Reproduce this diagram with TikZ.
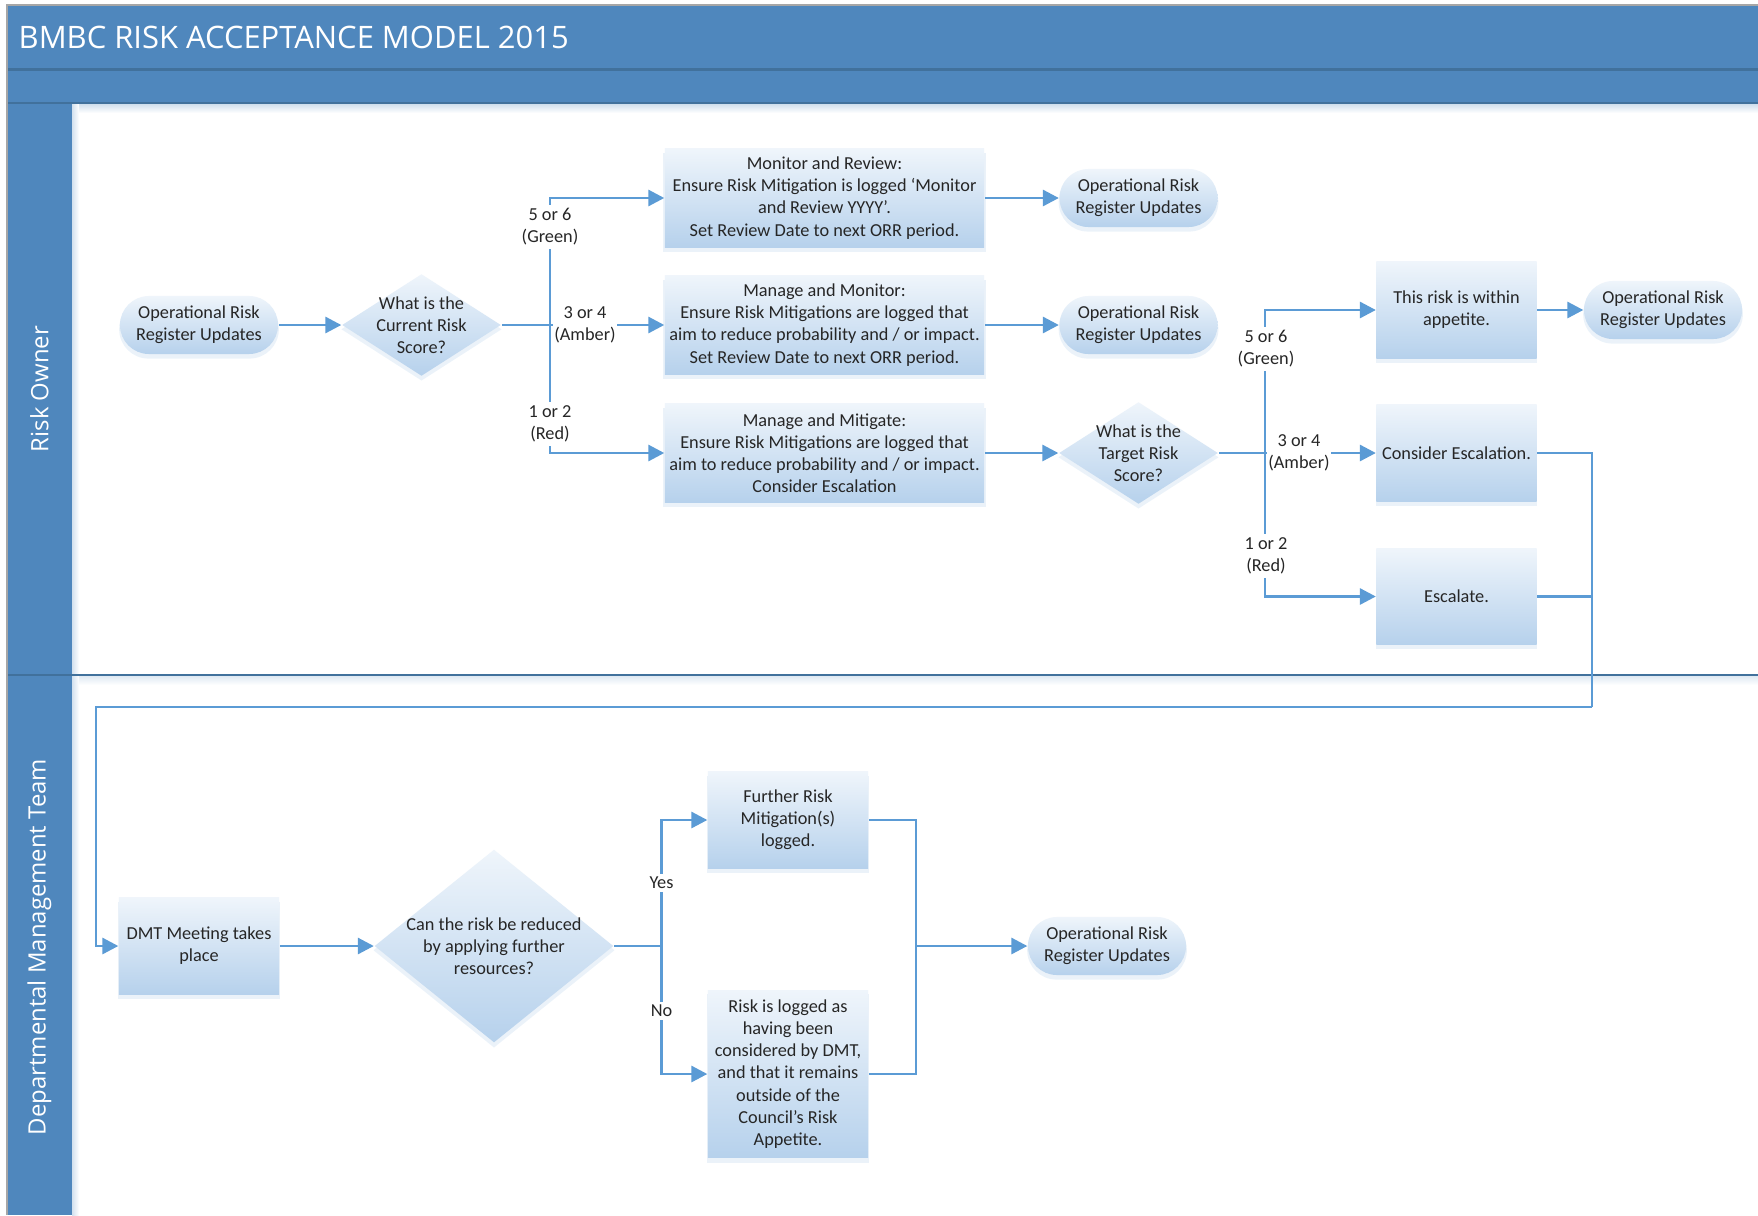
\documentclass[tikz,border=0pt]{standalone}
\usepackage{fontspec}
\setmainfont{Carlito}
\newfontfamily\lanefont{Open Sans}
\usepackage{tikz}
\usetikzlibrary{positioning}
\usetikzlibrary{shapes.geometric}
\usetikzlibrary{arrows.meta}
\usetikzlibrary{shadows}
\pgfdeclarelayer{background}
\pgfdeclarelayer{foreground}
\pgfsetlayers{background,main,foreground}
\definecolor{lanefill}{HTML}{4F87BD}
\definecolor{laneedge}{HTML}{41719C}
\definecolor{flowblue}{HTML}{5B9BD5}
\definecolor{boxtop}{HTML}{EFF5FB}
\definecolor{boxbottom}{HTML}{B6D1EC}
\definecolor{inktext}{HTML}{262626}
\newcommand{\nodefont}{\fontsize{5.2pt}{6.3pt}\selectfont}

\begin{document}
\begin{tikzpicture}[x=0.01cm, y=-0.01cm,
							basenode/.style={font=\nodefont, text=inktext, align=center, top color=boxtop, bottom color=boxbottom, drop shadow={shadow xshift=0pt, shadow yshift=-1.2pt, shadow scale=1.01, opacity=0.12, fill=flowblue}},
							roundnode/.style={basenode, rectangle, rounded corners=0.29cm, minimum width=1.58cm, minimum height=0.58cm, inner sep=1pt},
							boxnode/.style={basenode, rectangle, minimum width=1.6cm, minimum height=0.96cm, inner sep=1pt},
							widebox/.style={boxnode, minimum width=3.19cm, minimum height=0.98cm},
							decnode/.style={basenode, diamond, aspect=1.54, inner sep=-3pt, minimum width=1.59cm, minimum height=1.02cm},
							labelnode/.style={font=\nodefont, text=inktext, align=center, fill=white, inner xsep=0.5pt, inner ysep=1pt},
							titletext/.style={anchor=west, inner sep=0pt, text=white, font=\lanefont\fontsize{8.8pt}{10pt}\selectfont},
							lanetext/.style={rotate=90, text=white, font=\lanefont\fontsize{6.8pt}{8pt}\selectfont},
							link/.style={draw=flowblue, line width=0.6pt},
							flow/.style={link, -{Triangle[length=4.5pt, width=4.6pt]}},
							]
							\useasboundingbox (0,0) rectangle (1758,1215);
							%Nodes
							\node[titletext]      (title)   at  (18,37)       {BMBC RISK ACCEPTANCE MODEL 2015};
							\node[lanetext]       (owner)   at  (39.5,389)    {Risk Owner};
							\node[lanetext]       (dmtlane) at  (39.5,947)    {Departmental Management Team};
							\node[roundnode]      (orr1)    at  (199,325)     {Operational Risk\\Register Updates};
							\node[decnode]        (cur)     at  (421.5,325)   {What is the\\Current Risk\\Score?};
							\node[widebox]        (mrev)    at  (824.5,198)   {Monitor and Review:\\Ensure Risk Mitigation is logged ‘Monitor\\and Review YYYY’.\\Set Review Date to next ORR period.};
							\node[widebox]        (mmon)    at  (824.5,325)   {Manage and Monitor:\\Ensure Risk Mitigations are logged that\\aim to reduce probability and / or impact.\\Set Review Date to next ORR period.};
							\node[widebox]        (mmit)    at  (824.5,453)   {Manage and Mitigate:\\Ensure Risk Mitigations are logged that\\aim to reduce probability and / or impact.\\Consider Escalation};
							\node[roundnode]      (orr2)    at  (1138.5,198)  {Operational Risk\\Register Updates};
							\node[roundnode]      (orr3)    at  (1138.5,325)  {Operational Risk\\Register Updates};
							\node[decnode]        (tgt)     at  (1138.5,453)  {What is the\\Target Risk\\Score?};
							\node[boxnode]        (within)  at  (1456.5,310)  {This risk is within\\appetite.};
							\node[roundnode]      (orr4)    at  (1663,310)    {Operational Risk\\Register Updates};
							\node[boxnode]        (consid)  at  (1456.5,453)  {Consider Escalation.};
							\node[boxnode]        (esc)     at  (1456.5,596.5) {Escalate.};
							\node[boxnode]        (dmt)     at  (199,946)     {DMT Meeting takes\\place};
							\node[decnode, aspect=1.24, minimum width=2.39cm, minimum height=1.93cm] (canred) at (494,946) {Can the risk be reduced\\by applying further\\resources?};
							\node[boxnode]        (further) at  (788,820)     {Further Risk\\Mitigation(s)\\logged.};
							\node[boxnode, minimum height=1.67cm] (logged) at (788,1074) {Risk is logged as\\having been\\considered by DMT,\\and that it remains\\outside of the\\Council’s Risk\\Appetite.};
							\node[roundnode]      (orr5)    at  (1107,946)    {Operational Risk\\Register Updates};
							\node[labelnode]      (green1)  at  (550,227)     {5 or 6\\(Green)};
							\node[labelnode]      (amber1)  at  (585,325)     {3 or 4\\(Amber)};
							\node[labelnode]      (red1)    at  (550,424)     {1 or 2\\(Red)};
							\node[labelnode]      (green2)  at  (1266,349)    {5 or 6\\(Green)};
							\node[labelnode]      (amber2)  at  (1299,453)    {3 or 4\\(Amber)};
							\node[labelnode]      (red2)    at  (1266,556)    {1 or 2\\(Red)};
							\node[labelnode]      (yes)     at  (661.5,883)   {Yes};
							\node[labelnode]      (no)      at  (661.5,1011)  {No};
							
							\begin{pgfonlayer}{background}
							%Lanes
							\fill[white] (0,0) rectangle (1758,1215);
							\fill[lanefill] (7,5) rectangle (1758,103);
							\fill[lanefill] (7,103) rectangle (72,1215);
							\shade[top color=lanefill!30, bottom color=white] (72,103) rectangle (1758,113);
							\shade[top color=lanefill!18, bottom color=white] (72,676) rectangle (1758,685);
							\shade[left color=lanefill!25, right color=white] (72,103) rectangle (79,1215);
							\draw[laneedge, line width=0.7pt] (7,69.5) -- (1758,69.5);
							\draw[laneedge, line width=0.7pt] (7,103) -- (1758,103);
							\draw[laneedge, line width=0.7pt] (7,675) -- (1758,675);
							\draw[gray!70, line width=0.5pt] (7,1215) -- (7,5) -- (1758,5);
							%Lines
							\coordinate (j1) at (550,325);
							\coordinate (j2) at (1265,453);
							\coordinate (j3) at (661.5,946);
							\coordinate (m1) at (916,946);
							\coordinate (back1) at (1592,707);
							\coordinate (back2) at (96,707);
							\draw[flow] (orr1) -- (cur);
							\draw[flow] (cur) -- (mmon);
							\draw[flow] (j1) |- (mrev);
							\draw[flow] (j1) |- (mmit);
							\draw[flow] (mrev) -- (orr2);
							\draw[flow] (mmon) -- (orr3);
							\draw[flow] (mmit) -- (tgt);
							\draw[flow] (tgt) -- (consid);
							\draw[flow] (j2) |- (within);
							\draw[flow] (j2) |- (esc);
							\draw[flow] (within) -- (orr4);
							\draw[link] (consid) -| (back1);
							\draw[link] (esc) -| (back1);
							\draw[flow] (back1) -- (back2) |- (dmt);
							\draw[flow] (dmt) -- (canred);
							\draw[link] (canred) -- (j3);
							\draw[flow] (j3) |- (further);
							\draw[flow] (j3) |- (logged);
							\draw[link] (further) -| (m1);
							\draw[link] (logged) -| (m1);
							\draw[flow] (m1) -- (orr5);
							\end{pgfonlayer}
						\end{tikzpicture}
\end{document}
